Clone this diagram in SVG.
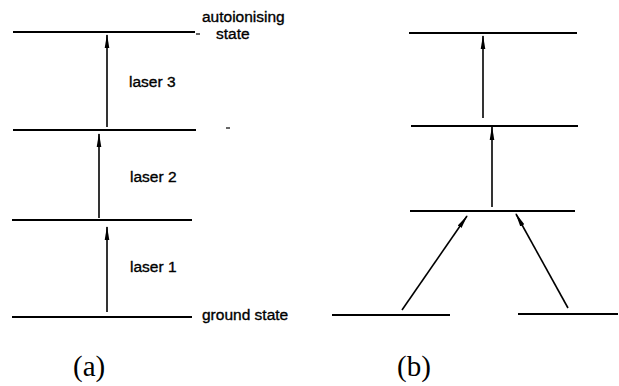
<svg xmlns="http://www.w3.org/2000/svg" width="619" height="386" viewBox="0 0 619 386">
<defs>
<style>
.lvl{stroke:#000;stroke-width:2;fill:none}
.arr{stroke:#000;stroke-width:1.6;fill:none;marker-end:url(#ah)}
.t{font-family:"Liberation Sans",Arial,sans-serif;font-size:15.5px;fill:#000;stroke:#000;stroke-width:0.35}
.cap{font-family:"Liberation Serif","Times New Roman",serif;font-size:29px;fill:#000}
.mk{stroke:#000;stroke-width:1.2}
</style>
<marker id="ah" viewBox="0 0 14 6" refX="13" refY="3" markerWidth="14" markerHeight="6" markerUnits="userSpaceOnUse" orient="auto">
<path d="M0,0.7 L14,3 L0,5.3 Z" fill="#000"/>
</marker>
</defs>
<g id="panel-a">
<g id="a-autoionising"><line class="lvl" x1="13" y1="32" x2="195" y2="32"/><text class="t" x="202" y="22">autoionising</text><text class="t" x="216" y="39" font-size="13">state</text><line class="mk" x1="196" y1="34" x2="200" y2="34"/></g>
<g id="a-level2"><line class="lvl" x1="13" y1="130" x2="196" y2="130"/><line class="mk" x1="226" y1="128" x2="230" y2="128"/></g>
<g id="a-level1"><line class="lvl" x1="12" y1="220" x2="192" y2="220"/></g>
<g id="a-ground"><line class="lvl" x1="12" y1="317" x2="192" y2="317"/><text class="t" x="202" y="320">ground state</text></g>
<g id="a-labels"><text class="t" x="129" y="87">laser 3</text><text class="t" x="130" y="182">laser 2</text><text class="t" x="130" y="272">laser 1</text></g>
<text class="cap" x="73" y="376">(a)</text>
</g>
<g id="panel-b">
<g id="b-top"><line class="lvl" x1="409" y1="33" x2="577" y2="33"/></g>
<g id="b-mid"><line class="lvl" x1="411" y1="126" x2="578" y2="126"/></g>
<g id="b-low"><line class="lvl" x1="410" y1="211" x2="575" y2="211"/></g>
<g id="b-ground-left"><line class="lvl" x1="332" y1="315" x2="450" y2="315"/></g>
<g id="b-ground-right"><line class="lvl" x1="518" y1="314" x2="618" y2="314"/></g>
<text class="cap" x="397" y="376">(b)</text>
</g>
<g id="connectors">
<line class="arr" x1="107" y1="127" x2="107" y2="35"/>
<line class="arr" x1="99" y1="218" x2="99" y2="134"/>
<line class="arr" x1="107" y1="312" x2="107" y2="227"/>
<line class="arr" x1="483" y1="118" x2="483" y2="36"/>
<line class="arr" x1="492" y1="207" x2="492" y2="127"/>
<line class="arr" x1="402" y1="310" x2="467" y2="216"/>
<line class="arr" x1="568" y1="308" x2="516" y2="214"/>
</g>
</svg>
